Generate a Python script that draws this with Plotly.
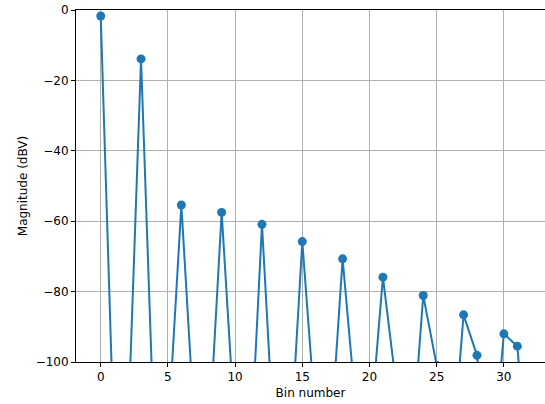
import plotly.graph_objects as go

# Bin numbers and magnitudes (dBV)
bins = list(range(0, 34))
magnitude = [
    -1.7, -124.6, -122.9, -13.9, -124.3, -121.0, -55.4, -120.0, -126.0, -57.5,
    -120.0, -137.6, -60.9, -130.7, -131.5, -65.8, -116.8, -128.0, -70.7, -113.8,
    -122.0, -75.9, -107.2, -132.0, -81.1, -101.0, -134.5, -86.6, -98.1, -135.0,
    -92.0, -95.5, -140.0, -140.0,
]
x_ticks = [0, 5, 10, 15, 20, 25, 30]
y_ticks = [0, -20, -40, -60, -80, -100]

blue = "#1f77b4"

fig = go.Figure(
    go.Scatter(
        x=bins,
        y=magnitude,
        mode="lines+markers",
        line=dict(color=blue, width=2),
        marker=dict(color=blue, size=9),
        cliponaxis=True,
    )
)

font = dict(family="DejaVu Sans", size=12, color="#000000")

fig.update_layout(
    width=545,
    height=404,
    margin=dict(l=76, r=0, t=10, b=42),
    paper_bgcolor="white",
    plot_bgcolor="white",
    showlegend=False,
    font=font,
)

fig.update_xaxes(
    range=[-1.84, 33.06],
    tickvals=x_ticks,
    showgrid=True,
    gridcolor="#b0b0b0",
    gridwidth=1,
    zeroline=False,
    showline=True,
    linecolor="#000000",
    linewidth=1,
    mirror=True,
    ticks="outside",
    ticklen=4,
    tickcolor="#000000",
    title=dict(text="Bin number", standoff=5, font=font),
    tickfont=font,
)

fig.update_yaxes(
    range=[-100, 0],
    tickvals=y_ticks,
    showgrid=True,
    gridcolor="#b0b0b0",
    gridwidth=1,
    zeroline=False,
    showline=True,
    linecolor="#000000",
    linewidth=1,
    ticks="outside",
    ticklen=4,
    tickcolor="#000000",
    title=dict(text="Magnitude (dBV)", standoff=5, font=font),
    tickfont=font,
)

fig.write_html(
    "out.html",
    config={"displayModeBar": False},
    post_script="document.body.style.margin='0';document.body.style.overflow='hidden';",
)
